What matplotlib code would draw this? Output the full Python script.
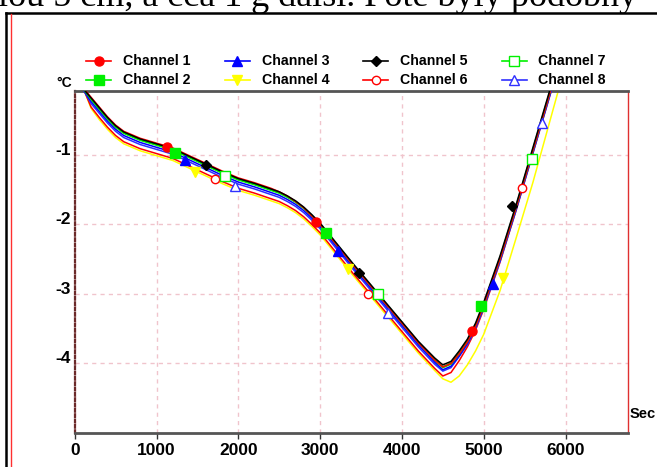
import matplotlib
matplotlib.use("Agg")
import matplotlib.pyplot as plt
from matplotlib.lines import Line2D

# time in seconds, temperatures in deg C
time_s = [100, 200, 300, 400, 500, 600, 800, 1000, 1200, 1400, 1600, 1800, 2000,
          2200, 2400, 2500, 2600, 2700, 2800, 2900, 3000, 3200, 3400, 3600, 3800, 4000, 4200,
          4400, 4500, 4600, 4700, 4800, 4900, 5000, 5200, 5400, 5600, 5800, 6000]

ch1 = [-0.03, -0.17, -0.31, -0.45, -0.57, -0.66, -0.76, -0.83, -0.90, -1.01, -1.12, -1.23, -1.33,
       -1.40, -1.48, -1.53, -1.59, -1.67, -1.76, -1.88, -2.00, -2.29, -2.58, -2.86, -3.14, -3.42, -3.70,
       -3.95, -4.05, -4.00, -3.86, -3.69, -3.46, -3.16, -2.49, -1.74, -0.94, -0.14, 0.66]
ch2 = [-0.04, -0.19, -0.33, -0.47, -0.59, -0.68, -0.78, -0.85, -0.92, -1.03, -1.14, -1.25, -1.35,
       -1.42, -1.50, -1.54, -1.60, -1.67, -1.76, -1.87, -1.99, -2.28, -2.57, -2.85, -3.13, -3.41, -3.69,
       -3.94, -4.05, -3.99, -3.84, -3.67, -3.44, -3.14, -2.47, -1.72, -0.92, -0.12, 0.68]
ch3 = [-0.05, -0.23, -0.37, -0.51, -0.63, -0.72, -0.82, -0.89, -0.96, -1.07, -1.18, -1.29, -1.39,
       -1.46, -1.54, -1.58, -1.64, -1.71, -1.80, -1.91, -2.03, -2.32, -2.61, -2.89, -3.17, -3.45, -3.73,
       -3.98, -4.09, -4.04, -3.89, -3.71, -3.48, -3.18, -2.51, -1.76, -0.96, -0.16, 0.64]
ch4 = [-0.02, -0.33, -0.49, -0.63, -0.75, -0.84, -0.94, -1.01, -1.08, -1.19, -1.30, -1.41, -1.51,
       -1.58, -1.66, -1.70, -1.76, -1.83, -1.92, -2.03, -2.15, -2.44, -2.73, -3.01, -3.29, -3.57, -3.85,
       -4.10, -4.22, -4.27, -4.18, -4.02, -3.82, -3.58, -2.95, -2.18, -1.40, -0.55, 0.30]
ch5 = [-0.04, -0.18, -0.32, -0.46, -0.58, -0.67, -0.77, -0.84, -0.91, -1.02, -1.13, -1.24, -1.34,
       -1.41, -1.49, -1.53, -1.59, -1.66, -1.75, -1.86, -1.98, -2.27, -2.56, -2.84, -3.12, -3.40, -3.68,
       -3.92, -4.02, -3.97, -3.82, -3.65, -3.42, -3.12, -2.45, -1.70, -0.90, -0.10, 0.70]
ch6 = [-0.03, -0.31, -0.46, -0.60, -0.72, -0.81, -0.91, -0.98, -1.05, -1.16, -1.27, -1.38, -1.48,
       -1.55, -1.63, -1.67, -1.73, -1.80, -1.89, -2.00, -2.12, -2.41, -2.70, -2.98, -3.26, -3.54, -3.82,
       -4.07, -4.18, -4.13, -3.96, -3.76, -3.52, -3.22, -2.54, -1.78, -0.98, -0.18, 0.62]
ch7 = [-0.04, -0.20, -0.34, -0.48, -0.60, -0.69, -0.79, -0.86, -0.93, -1.04, -1.15, -1.26, -1.36,
       -1.43, -1.51, -1.55, -1.61, -1.68, -1.77, -1.88, -2.00, -2.29, -2.58, -2.86, -3.14, -3.42, -3.70,
       -3.95, -4.06, -4.01, -3.86, -3.69, -3.46, -3.16, -2.49, -1.74, -0.94, -0.14, 0.66]
ch8 = [-0.05, -0.26, -0.40, -0.54, -0.66, -0.75, -0.85, -0.92, -0.99, -1.10, -1.21, -1.32, -1.42,
       -1.49, -1.57, -1.61, -1.67, -1.74, -1.83, -1.94, -2.06, -2.35, -2.64, -2.92, -3.20, -3.48, -3.76,
       -4.01, -4.11, -4.06, -3.90, -3.73, -3.50, -3.20, -2.53, -1.78, -0.98, -0.18, 0.62]

# symbol positions on each trace
mark_t = [[1125, 2955, 4853], [1226, 3073, 4967], [1351, 3219, 5110], [1466, 3340, 5232],
          [1605, 3475, 5350], [1716, 3589, 5472], [1838, 3707, 5585], [1960, 3829, 5715]]
mark_y = [[-0.88, -1.96, -3.53], [-0.97, -2.12, -3.17], [-1.07, -2.38, -2.85], [-1.25, -2.64, -2.77],
          [-1.14, -2.70, -1.74], [-1.35, -3.00, -1.47], [-1.30, -3.00, -1.06], [-1.45, -3.28, -0.54]]

names = ["Channel 1", "Channel 2", "Channel 3", "Channel 4",
         "Channel 5", "Channel 6", "Channel 7", "Channel 8"]
series = [ch1, ch2, ch3, ch4, ch5, ch6, ch7, ch8]
colors = ["#ff0000", "#00f000", "#0000ff", "#ffff00", "#000000", "#ff0000", "#00f000", "#3030ff"]
markers = ["o", "s", "^", "v", "D", "o", "s", "^"]
msizes = [6.5, 6.5, 7.5, 7.5, 5.5, 6, 7, 7.5]
filled = [True, True, True, True, True, False, False, False]

plt.rcParams["font.family"] = ["Liberation Sans", "DejaVu Sans"]
plt.rcParams["font.weight"] = "bold"

W, H = 657, 467
fig = plt.figure(figsize=(W / 100, H / 100), dpi=100)

def fx(px):
    return px / W

def fy(py):
    return 1 - py / H

ax = fig.add_axes([fx(74.7), fy(433), 553 / W, 342 / H])

draw_order = [3, 5, 7, 2, 6, 1, 0, 4]
for k, i in enumerate(draw_order):
    ax.plot(time_s, series[i], color=colors[i], lw=1.1, zorder=2 + k)
for i in range(8):
    fc = colors[i] if filled[i] else "white"
    ax.plot(mark_t[i], mark_y[i], linestyle="none", marker=markers[i], ms=msizes[i],
            mfc=fc, mec=colors[i], mew=1, zorder=20)

ax.set_xlim(0, 6760)
ax.set_ylim(-5.0, -0.08)
ax.set_xticks([0, 1000, 2000, 3000, 4000, 5000, 6000])
ax.set_yticks([-1, -2, -3, -4])
ax.set_yticklabels(["-1", "-2", "-3", "-4"])
ax.grid(True, color="#f0c4cc", linestyle=(0, (3, 3)), lw=1, zorder=0)

ax.spines["left"].set_linestyle((0, (1.2, 1.2)))
ax.spines["left"].set_color("#6b2a2a")
ax.spines["left"].set_linewidth(1.6)
ax.spines["bottom"].set_color("#555555")
ax.spines["bottom"].set_linewidth(2)
ax.spines["top"].set_color("#555555")
ax.spines["top"].set_linewidth(2)
ax.spines["right"].set_color("#e03030")
ax.spines["right"].set_linewidth(1)

ax.tick_params(axis="x", length=4, width=1, color="#333333", pad=3, labelsize=12.5)
ax.tick_params(axis="y", length=0, pad=3, labelsize=12.5)
for lab in ax.get_yticklabels():
    lab.set_verticalalignment("baseline")

# units
fig.text(fx(72), fy(87), "°C", ha="right", va="baseline", fontsize=10)
fig.text(fx(630), fy(418), "Sec", ha="left", va="baseline", fontsize=10.5)

# legend, two rows by four columns
for i in range(8):
    col, row = i // 2, i % 2
    x0 = 86 + 138.5 * col
    y0 = 61 + 19 * row
    fc = colors[i] if filled[i] else "white"
    fig.add_artist(Line2D([fx(x0), fx(x0 + 25)], [fy(y0), fy(y0)], color=colors[i], lw=1.2))
    fig.add_artist(Line2D([fx(x0 + 12.5)], [fy(y0)], marker=markers[i], ms=msizes[i],
                          mfc=fc, mec=colors[i], mew=1, linestyle="none"))
    fig.text(fx(x0 + 37), fy(y0), names[i], ha="left", va="center", fontsize=10.2)

# page frame and the clipped line of text above it
fig.add_artist(Line2D([fx(6), fx(6)], [fy(13), fy(470)], color="black", lw=1.8))
fig.add_artist(Line2D([fx(6), fx(660)], [fy(13), fy(13)], color="black", lw=1.8))
fig.add_artist(Line2D([fx(11), fx(11)], [fy(14), fy(470)], color="#ff3030", lw=1))
fig.text(fx(-2), fy(6), "lou 5 cm, a cca 1 g další. Poté byly podobný", ha="left",
         va="baseline", fontsize=26, family=["Liberation Serif", "DejaVu Serif"],
         weight="normal")

fig.savefig("out.png", dpi=100)
